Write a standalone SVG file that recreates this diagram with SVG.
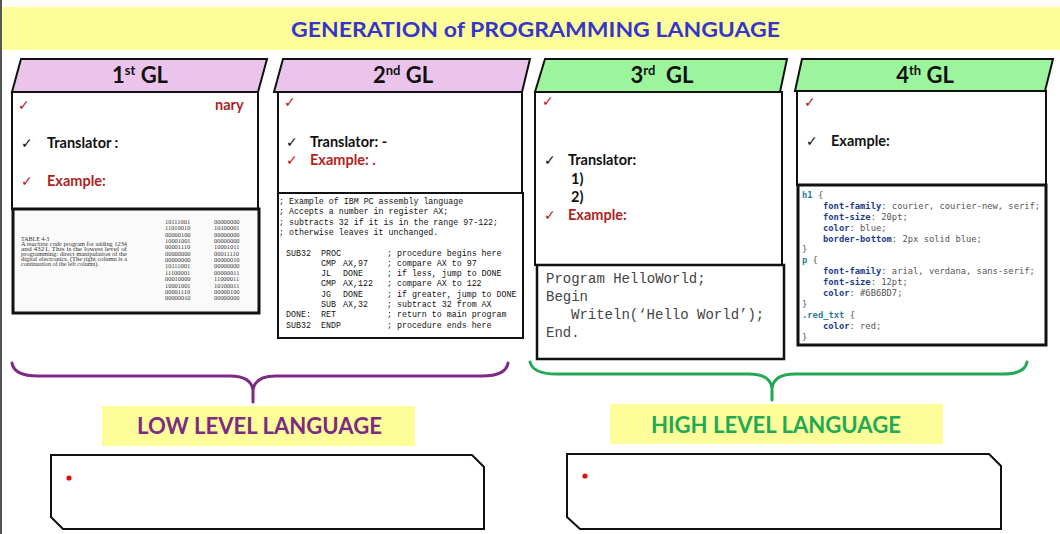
<svg xmlns="http://www.w3.org/2000/svg" width="1060" height="534" viewBox="0 0 1060 534">
  <style>
    .band { fill: #FDFD9A; }
    .hdr-low { fill: #EBC4EC; stroke: #111; stroke-width: 2; }
    .hdr-high { fill: #9CF59C; stroke: #111; stroke-width: 2; }
    .hdr-txt { font-family: Lato, "Open Sans", sans-serif; font-weight: bold; font-size: 22px; fill: #111; text-anchor: middle; }
    .sup { font-size: 13px; }
    .box { fill: #fff; stroke: #111; stroke-width: 2; }
    .code-box { fill: #fff; stroke: #111; stroke-width: 2.5; }
    .lbl { font-family: Lato, "Open Sans", sans-serif; font-weight: bold; font-size: 14.5px; fill: #111; }
    .red { fill: #B01E22; }
    .chk { font-family: "DejaVu Sans", sans-serif; font-size: 14px; fill: #111; }
    .chk-red { font-family: "DejaVu Sans", sans-serif; font-size: 14px; fill: #C0141C; }
    .tbl { font-family: "Liberation Serif", serif; font-size: 6px; fill: #333; }
    .bin { font-family: "Liberation Serif", serif; font-size: 6.4px; fill: #333; }
    .asm { font-family: "Liberation Mono", monospace; font-size: 8.3px; fill: #111; }
    .pas { font-family: "Liberation Mono", monospace; font-size: 14px; fill: #444; }
    .css { font-family: "DejaVu Sans Mono", monospace; font-size: 8.8px; fill: #555; }
    .sel { fill: #2A8090; font-weight: bold; }
    .prop { fill: #1E3A8A; font-weight: bold; }
    .group-txt { font-family: Lato, "Open Sans", sans-serif; font-weight: bold; font-size: 23px; }
    .note { fill: #fff; stroke: #111; stroke-width: 2; }
  </style>

  <!-- page edge -->
  <rect x="0" y="0" width="1060" height="534" fill="#fff"/>
  <line x1="1" y1="0" x2="1" y2="534" stroke="#555" stroke-width="2"/>

  <!-- title band -->
  <g id="title">
    <rect class="band" x="2" y="7" width="1058" height="43"/>
    <text x="291" y="37" textLength="489" lengthAdjust="spacingAndGlyphs" font-family="Lato, 'Open Sans', sans-serif" font-weight="bold" font-size="20.5" fill="#3535CC">GENERATION of PROGRAMMING LANGUAGE</text>
  </g>

  <!-- 1st generation -->
  <g id="gen1">
    <polygon class="hdr-low" points="21,59 267,59 258,92 12,92"/>
    <text class="hdr-txt" x="140" y="83">1<tspan class="sup" dy="-8">st</tspan><tspan dy="8"> GL</tspan></text>
    <rect class="box" x="12" y="92" width="246" height="117"/>
    <text class="chk-red" x="18" y="110">✓</text>
    <text class="lbl red" x="215" y="110">nary</text>
    <text class="chk" x="21" y="148">✓</text>
    <text class="lbl" x="47" y="148">Translator :</text>
    <text class="chk-red" x="21" y="186">✓</text>
    <text class="lbl red" x="47" y="186">Example:</text>
    <rect x="13" y="209" width="246" height="104" fill="#FAFAFA" stroke="#111" stroke-width="3"/>
    <g class="tbl">
      <text x="21" y="241">TABLE 4-3</text>
      <text x="21" y="246" textLength="106" lengthAdjust="spacingAndGlyphs">A <tspan font-style="italic">machine code</tspan> program for adding 1234</text>
      <text x="21" y="251" textLength="106" lengthAdjust="spacingAndGlyphs">and 4321. This is the lowest level of</text>
      <text x="21" y="256" textLength="106" lengthAdjust="spacingAndGlyphs">programming: direct manipulation of the</text>
      <text x="21" y="261" textLength="106" lengthAdjust="spacingAndGlyphs">digital electronics. (The right column is a</text>
      <text x="21" y="266">continuation of the left column).</text>
    </g>
    <g class="bin">
      <text x="165" y="224">10111001</text><text x="214" y="224">00000000</text>
      <text x="165" y="230.3">11010010</text><text x="214" y="230.3">10100001</text>
      <text x="165" y="236.7">00000100</text><text x="214" y="236.7">00000000</text>
      <text x="165" y="243">10001001</text><text x="214" y="243">00000000</text>
      <text x="165" y="249.4">00001110</text><text x="214" y="249.4">10001011</text>
      <text x="165" y="255.7">00000000</text><text x="214" y="255.7">00011110</text>
      <text x="165" y="262">00000000</text><text x="214" y="262">00000010</text>
      <text x="165" y="268.4">10111001</text><text x="214" y="268.4">00000000</text>
      <text x="165" y="274.8">11100001</text><text x="214" y="274.8">00000011</text>
      <text x="165" y="281.1">00010000</text><text x="214" y="281.1">11000011</text>
      <text x="165" y="287.5">10001001</text><text x="214" y="287.5">10100011</text>
      <text x="165" y="293.8">00001110</text><text x="214" y="293.8">00000100</text>
      <text x="165" y="300.2">00000010</text><text x="214" y="300.2">00000000</text>
    </g>
  </g>

  <!-- 2nd generation -->
  <g id="gen2">
    <polygon class="hdr-low" points="283,59 530,59 522,92 274,92"/>
    <text class="hdr-txt" x="403" y="83">2<tspan class="sup" dy="-8">nd</tspan><tspan dy="8"> GL</tspan></text>
    <rect class="box" x="278" y="92" width="244" height="101"/>
    <text class="chk-red" x="284" y="107">✓</text>
    <text class="chk" x="286" y="147">✓</text>
    <text class="lbl" x="310" y="147">Translator: -</text>
    <text class="chk-red" x="286" y="165">✓</text>
    <text class="lbl red" x="310" y="165">Example: .</text>
    <rect class="box" x="278" y="193" width="245" height="145"/>
    <g class="asm">
      <text x="279" y="204">; Example of IBM PC assembly language</text>
      <text x="279" y="214.3">; Accepts a number in register AX;</text>
      <text x="279" y="224.6">; subtracts 32 if it is in the range 97-122;</text>
      <text x="279" y="234.9">; otherwise leaves it unchanged.</text>
      <text y="255.5"><tspan x="286">SUB32</tspan><tspan x="321">PROC</tspan><tspan x="387">; procedure begins here</tspan></text>
      <text y="265.8"><tspan x="321">CMP</tspan><tspan x="343">AX,97</tspan><tspan x="387">; compare AX to 97</tspan></text>
      <text y="276.1"><tspan x="321">JL</tspan><tspan x="343">DONE</tspan><tspan x="387">; if less, jump to DONE</tspan></text>
      <text y="286.4"><tspan x="321">CMP</tspan><tspan x="343">AX,122</tspan><tspan x="387">; compare AX to 122</tspan></text>
      <text y="296.7"><tspan x="321">JG</tspan><tspan x="343">DONE</tspan><tspan x="387">; if greater, jump to DONE</tspan></text>
      <text y="307"><tspan x="321">SUB</tspan><tspan x="343">AX,32</tspan><tspan x="387">; subtract 32 from AX</tspan></text>
      <text y="317.3"><tspan x="286">DONE:</tspan><tspan x="321">RET</tspan><tspan x="387">; return to main program</tspan></text>
      <text y="327.6"><tspan x="286">SUB32</tspan><tspan x="321">ENDP</tspan><tspan x="387">; procedure ends here</tspan></text>
    </g>
  </g>

  <!-- 3rd generation -->
  <g id="gen3">
    <polygon class="hdr-high" points="545,59 787,59 780,92 535,92"/>
    <text class="hdr-txt" x="662" y="83">3<tspan class="sup" dy="-8">rd</tspan><tspan dy="8" xml:space="preserve">  GL</tspan></text>
    <rect class="box" x="535" y="92" width="247" height="173"/>
    <text class="chk-red" x="542" y="106">✓</text>
    <text class="chk" x="544" y="165">✓</text>
    <text class="lbl" x="568" y="165">Translator:</text>
    <text class="lbl" x="571" y="184">1)</text>
    <text class="lbl" x="571" y="202">2)</text>
    <text class="chk-red" x="544" y="220">✓</text>
    <text class="lbl red" x="568" y="220">Example:</text>
    <rect class="code-box" x="537" y="265" width="247" height="94"/>
    <g class="pas">
      <text x="546" y="283">Program HelloWorld;</text>
      <text x="546" y="301">Begin</text>
      <text x="571" y="319">Writeln(‘Hello World’);</text>
      <text x="546" y="337">End.</text>
    </g>
  </g>

  <!-- 4th generation -->
  <g id="gen4">
    <polygon class="hdr-high" points="802,59 1053,59 1045,91 795,91"/>
    <text class="hdr-txt" x="925" y="83">4<tspan class="sup" dy="-8">th</tspan><tspan dy="8"> GL</tspan></text>
    <rect class="box" x="797" y="91" width="249" height="94"/>
    <text class="chk-red" x="804" y="107">✓</text>
    <text class="chk" x="806" y="146">✓</text>
    <text class="lbl" x="831" y="146">Example:</text>
    <rect x="798" y="185" width="248" height="160" fill="#fff" stroke="#111" stroke-width="3"/>
    <g class="css">
      <text x="802" y="198"><tspan class="sel">h1</tspan> {</text>
      <text x="823" y="209"><tspan class="prop">font-family</tspan>: courier, courier-new, serif;</text>
      <text x="823" y="220"><tspan class="prop">font-size</tspan>: 20pt;</text>
      <text x="823" y="231"><tspan class="prop">color</tspan>: blue;</text>
      <text x="823" y="242"><tspan class="prop">border-bottom</tspan>: 2px solid blue;</text>
      <text x="802" y="252" fill="#555">}</text>
      <text x="802" y="263"><tspan class="sel">p</tspan> {</text>
      <text x="823" y="274"><tspan class="prop">font-family</tspan>: arial, verdana, sans-serif;</text>
      <text x="823" y="285"><tspan class="prop">font-size</tspan>: 12pt;</text>
      <text x="823" y="296"><tspan class="prop">color</tspan>: #6B6BD7;</text>
      <text x="802" y="307" fill="#555">}</text>
      <text x="802" y="318"><tspan class="sel">.red_txt</tspan> {</text>
      <text x="823" y="329"><tspan class="prop">color</tspan>: red;</text>
      <text x="802" y="340" fill="#555">}</text>
    </g>
  </g>

  <!-- grouping braces -->
  <g id="connectors" fill="none" stroke-width="3" stroke-linecap="round">
    <path stroke="#7F2A82" d="M12,363 Q14,376 38,376 L230,376 Q251,376 253,390 L253,402 M253,390 Q255,376 276,376 L482,376 Q506,376 508,363"/>
    <path stroke="#22A956" d="M530,362 Q533,374 556,374 L749,374 Q770,374 772,388 L772,400 M772,388 Q774,374 795,374 L1003,374 Q1025,374 1027,362"/>
  </g>

  <!-- low level language -->
  <g id="low-level">
    <rect class="band" x="102" y="406" width="313" height="40"/>
    <text class="group-txt" x="137" y="434" textLength="245" lengthAdjust="spacingAndGlyphs" fill="#7F2A82">LOW LEVEL LANGUAGE</text>
    <polygon class="note" points="51,455 472,455 484,467 484,529 63,529 51,517"/>
    <circle cx="69" cy="478" r="2.6" fill="#E01010"/>
  </g>

  <!-- high level language -->
  <g id="high-level">
    <rect class="band" x="610" y="404" width="333" height="40"/>
    <text class="group-txt" x="651" y="433" textLength="250" lengthAdjust="spacingAndGlyphs" fill="#22A956">HIGH LEVEL LANGUAGE</text>
    <polygon class="note" points="567,454 989,454 1001,466 1001,529 580,529 567,517"/>
    <circle cx="585" cy="476" r="2.6" fill="#E01010"/>
  </g>
</svg>
